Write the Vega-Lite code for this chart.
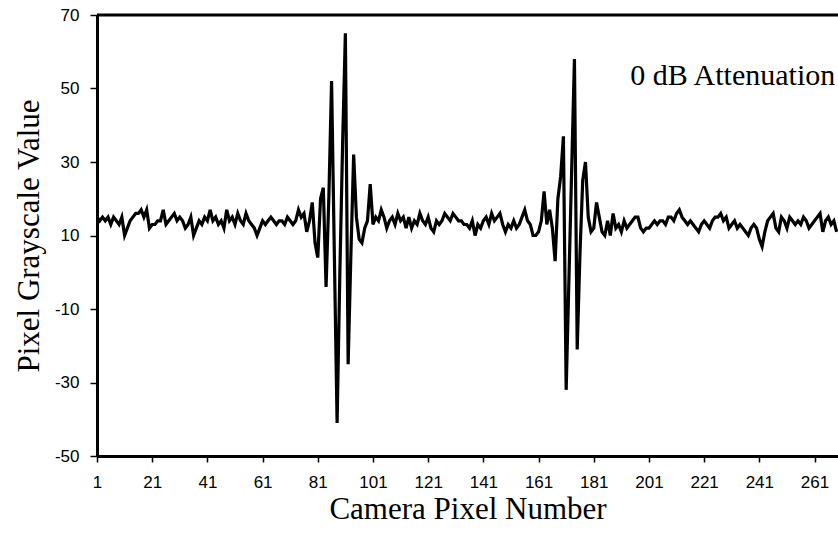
{
  "$schema": "https://vega.github.io/schema/vega-lite/v6.json",
  "width": 741,
  "height": 441,
  "autosize": {"type": "none"},
  "padding": {"left": 97, "top": 15, "right": 0, "bottom": 78},
  "background": "white",
  "config": {"view": {"stroke": null}},
  "datasets": {
    "signal": [
      {"pixel":1,"value":15},{"pixel":2,"value":14},{"pixel":3,"value":15},{"pixel":4,"value":14},{"pixel":5,"value":15},
      {"pixel":6,"value":13},{"pixel":7,"value":15},{"pixel":8,"value":14},{"pixel":9,"value":13},{"pixel":10,"value":15},
      {"pixel":11,"value":10},{"pixel":12,"value":12},{"pixel":13,"value":14},{"pixel":14,"value":15},{"pixel":15,"value":16},
      {"pixel":16,"value":16},{"pixel":17,"value":17},{"pixel":18,"value":15},{"pixel":19,"value":17},{"pixel":20,"value":12},
      {"pixel":21,"value":13},{"pixel":22,"value":13},{"pixel":23,"value":14},{"pixel":24,"value":14},{"pixel":25,"value":17},
      {"pixel":26,"value":13},{"pixel":27,"value":14},{"pixel":28,"value":15},{"pixel":29,"value":16},{"pixel":30,"value":14},
      {"pixel":31,"value":15},{"pixel":32,"value":14},{"pixel":33,"value":12},{"pixel":34,"value":13},{"pixel":35,"value":15},
      {"pixel":36,"value":10},{"pixel":37,"value":12},{"pixel":38,"value":14},{"pixel":39,"value":13},{"pixel":40,"value":15},
      {"pixel":41,"value":14},{"pixel":42,"value":17},{"pixel":43,"value":14},{"pixel":44,"value":15},{"pixel":45,"value":13},
      {"pixel":46,"value":14},{"pixel":47,"value":12},{"pixel":48,"value":17},{"pixel":49,"value":14},{"pixel":50,"value":15},
      {"pixel":51,"value":13},{"pixel":52,"value":16},{"pixel":53,"value":14},{"pixel":54,"value":13},{"pixel":55,"value":16},
      {"pixel":56,"value":14},{"pixel":57,"value":13},{"pixel":58,"value":12},{"pixel":59,"value":10},{"pixel":60,"value":12},
      {"pixel":61,"value":14},{"pixel":62,"value":13},{"pixel":63,"value":14},{"pixel":64,"value":15},{"pixel":65,"value":14},
      {"pixel":66,"value":13},{"pixel":67,"value":14},{"pixel":68,"value":14},{"pixel":69,"value":13},{"pixel":70,"value":15},
      {"pixel":71,"value":14},{"pixel":72,"value":13},{"pixel":73,"value":14},{"pixel":74,"value":17},{"pixel":75,"value":15},
      {"pixel":76,"value":16},{"pixel":77,"value":11},{"pixel":78,"value":14},{"pixel":79,"value":19},{"pixel":80,"value":8},
      {"pixel":81,"value":4},{"pixel":82,"value":20},{"pixel":83,"value":23},{"pixel":84,"value":-4},{"pixel":85,"value":20},
      {"pixel":86,"value":52},{"pixel":87,"value":5},{"pixel":88,"value":-41},{"pixel":89,"value":0},{"pixel":90,"value":35},
      {"pixel":91,"value":65},{"pixel":92,"value":-25},{"pixel":93,"value":5},{"pixel":94,"value":32},{"pixel":95,"value":15},
      {"pixel":96,"value":9},{"pixel":97,"value":8},{"pixel":98,"value":12},{"pixel":99,"value":14},{"pixel":100,"value":24},
      {"pixel":101,"value":13},{"pixel":102,"value":15},{"pixel":103,"value":14},{"pixel":104,"value":17},{"pixel":105,"value":15},
      {"pixel":106,"value":12},{"pixel":107,"value":14},{"pixel":108,"value":15},{"pixel":109,"value":13},{"pixel":110,"value":16},
      {"pixel":111,"value":14},{"pixel":112,"value":15},{"pixel":113,"value":12},{"pixel":114,"value":15},{"pixel":115,"value":12},
      {"pixel":116,"value":14},{"pixel":117,"value":13},{"pixel":118,"value":16},{"pixel":119,"value":14},{"pixel":120,"value":13},
      {"pixel":121,"value":15},{"pixel":122,"value":12},{"pixel":123,"value":11},{"pixel":124,"value":14},{"pixel":125,"value":13},
      {"pixel":126,"value":14},{"pixel":127,"value":16},{"pixel":128,"value":15},{"pixel":129,"value":14},{"pixel":130,"value":16},
      {"pixel":131,"value":15},{"pixel":132,"value":14},{"pixel":133,"value":14},{"pixel":134,"value":13},{"pixel":135,"value":13},
      {"pixel":136,"value":12},{"pixel":137,"value":14},{"pixel":138,"value":10},{"pixel":139,"value":13},{"pixel":140,"value":12},
      {"pixel":141,"value":14},{"pixel":142,"value":15},{"pixel":143,"value":13},{"pixel":144,"value":16},{"pixel":145,"value":14},
      {"pixel":146,"value":15},{"pixel":147,"value":16},{"pixel":148,"value":13},{"pixel":149,"value":11},{"pixel":150,"value":13},
      {"pixel":151,"value":12},{"pixel":152,"value":14},{"pixel":153,"value":12},{"pixel":154,"value":13},{"pixel":155,"value":15},
      {"pixel":156,"value":17},{"pixel":157,"value":14},{"pixel":158,"value":13},{"pixel":159,"value":10},{"pixel":160,"value":10},
      {"pixel":161,"value":11},{"pixel":162,"value":14},{"pixel":163,"value":22},{"pixel":164,"value":13},{"pixel":165,"value":17},
      {"pixel":166,"value":12},{"pixel":167,"value":3},{"pixel":168,"value":20},{"pixel":169,"value":26},{"pixel":170,"value":37},
      {"pixel":171,"value":-32},{"pixel":172,"value":-2},{"pixel":173,"value":28},{"pixel":174,"value":58},{"pixel":175,"value":-21},
      {"pixel":176,"value":5},{"pixel":177,"value":25},{"pixel":178,"value":30},{"pixel":179,"value":15},{"pixel":180,"value":11},
      {"pixel":181,"value":12},{"pixel":182,"value":19},{"pixel":183,"value":15},{"pixel":184,"value":11},{"pixel":185,"value":10},
      {"pixel":186,"value":14},{"pixel":187,"value":10},{"pixel":188,"value":16},{"pixel":189,"value":12},{"pixel":190,"value":13},
      {"pixel":191,"value":11},{"pixel":192,"value":14},{"pixel":193,"value":12},{"pixel":194,"value":13},{"pixel":195,"value":14},
      {"pixel":196,"value":15},{"pixel":197,"value":15},{"pixel":198,"value":12},{"pixel":199,"value":11},{"pixel":200,"value":12},
      {"pixel":201,"value":12},{"pixel":202,"value":13},{"pixel":203,"value":14},{"pixel":204,"value":13},{"pixel":205,"value":14},
      {"pixel":206,"value":14},{"pixel":207,"value":13},{"pixel":208,"value":15},{"pixel":209,"value":15},{"pixel":210,"value":14},
      {"pixel":211,"value":16},{"pixel":212,"value":17},{"pixel":213,"value":15},{"pixel":214,"value":14},{"pixel":215,"value":13},
      {"pixel":216,"value":14},{"pixel":217,"value":13},{"pixel":218,"value":12},{"pixel":219,"value":11},{"pixel":220,"value":13},
      {"pixel":221,"value":14},{"pixel":222,"value":13},{"pixel":223,"value":12},{"pixel":224,"value":14},{"pixel":225,"value":15},
      {"pixel":226,"value":15},{"pixel":227,"value":16},{"pixel":228,"value":14},{"pixel":229,"value":15},{"pixel":230,"value":12},
      {"pixel":231,"value":13},{"pixel":232,"value":14},{"pixel":233,"value":12},{"pixel":234,"value":13},{"pixel":235,"value":12},
      {"pixel":236,"value":11},{"pixel":237,"value":10},{"pixel":238,"value":12},{"pixel":239,"value":13},{"pixel":240,"value":12},
      {"pixel":241,"value":9},{"pixel":242,"value":7},{"pixel":243,"value":11},{"pixel":244,"value":14},{"pixel":245,"value":15},
      {"pixel":246,"value":16},{"pixel":247,"value":12},{"pixel":248,"value":11},{"pixel":249,"value":15},{"pixel":250,"value":14},
      {"pixel":251,"value":12},{"pixel":252,"value":15},{"pixel":253,"value":14},{"pixel":254,"value":13},{"pixel":255,"value":14},
      {"pixel":256,"value":13},{"pixel":257,"value":15},{"pixel":258,"value":14},{"pixel":259,"value":12},{"pixel":260,"value":13},
      {"pixel":261,"value":14},{"pixel":262,"value":15},{"pixel":263,"value":16},{"pixel":264,"value":11},{"pixel":265,"value":14},
      {"pixel":266,"value":15},{"pixel":267,"value":13},{"pixel":268,"value":14},{"pixel":269,"value":11}
    ],
    "note": [{"label": "0 dB Attenuation"}]
  },
  "layer": [
    {
      "data": {"name": "signal"},
      "mark": {"type": "line", "color": "black", "strokeWidth": 3.2, "strokeJoin": "miter", "strokeMiterLimit": 4, "clip": true},
      "encoding": {
        "x": {
          "field": "pixel", "type": "quantitative",
          "scale": {"domain": [1, 269.5], "nice": false, "zero": false},
          "axis": {
            "title": "Camera Pixel Number",
            "titleFont": "Liberation Serif", "titleFontSize": 31, "titleFontWeight": "normal", "titleColor": "black", "titlePadding": 4,
            "values": [1,21,41,61,81,101,121,141,161,181,201,221,241,261],
            "labelFont": "Liberation Sans", "labelFontSize": 17, "labelColor": "black", "labelPadding": 12,
            "domainColor": "black", "domainWidth": 3, "tickColor": "black", "tickWidth": 1.5, "tickSize": 6,
            "grid": false, "labelFlush": false
          }
        },
        "y": {
          "field": "value", "type": "quantitative",
          "scale": {"domain": [-50, 70], "nice": false, "zero": false},
          "axis": {
            "title": "Pixel Grayscale Value",
            "titleFont": "Liberation Serif", "titleFontSize": 31, "titleFontWeight": "normal", "titleColor": "black", "titlePadding": 9,
            "values": [-50,-30,-10,10,30,50,70],
            "labelExpr": "datum.value < 0 ? '-' + abs(datum.value) : '' + datum.value",
            "labelFont": "Liberation Sans", "labelFontSize": 17, "labelColor": "black", "labelPadding": 11,
            "domainColor": "black", "domainWidth": 3, "tickColor": "black", "tickWidth": 1.5, "tickSize": 7,
            "grid": false, "labelFlush": false
          }
        }
      }
    },
    {
      "data": {"name": "note"},
      "mark": {"type": "rule", "color": "black", "strokeWidth": 3},
      "encoding": {"y": {"datum": 70, "type": "quantitative"}}
    },
    {
      "data": {"name": "note"},
      "mark": {"type": "text", "font": "Liberation Serif", "fontSize": 30, "align": "right", "baseline": "alphabetic", "color": "black"},
      "encoding": {
        "x": {"datum": 268.5, "type": "quantitative"},
        "y": {"datum": 51, "type": "quantitative"},
        "text": {"field": "label"}
      }
    }
  ]
}
